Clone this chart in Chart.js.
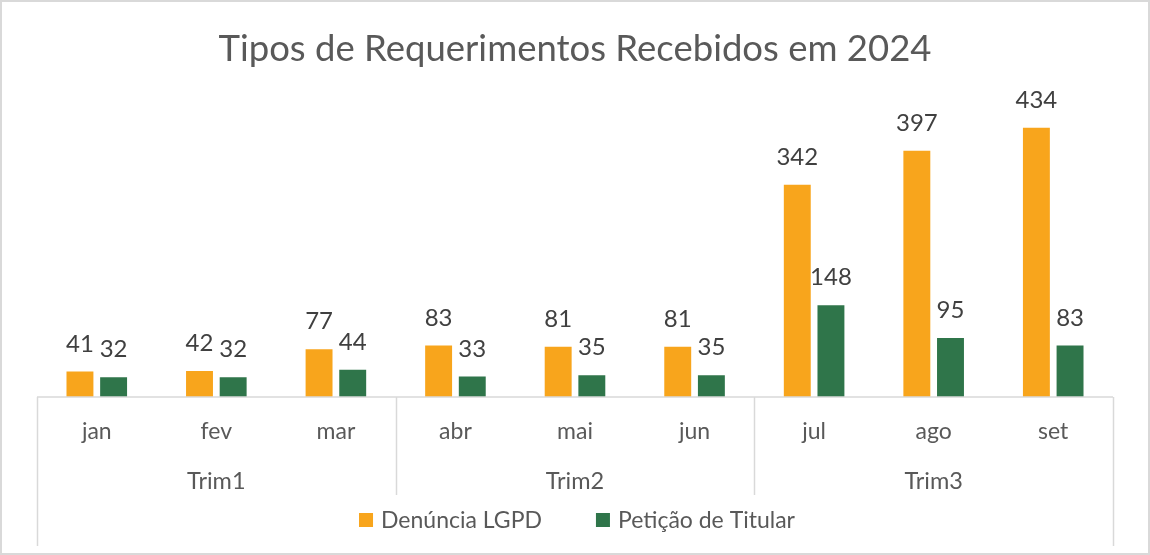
<!DOCTYPE html>
<html>
<head>
<meta charset="utf-8">
<title>Tipos de Requerimentos Recebidos em 2024</title>
<script src="https://cdn.jsdelivr.net/npm/chart.js@4.4.1/dist/chart.umd.min.js"></script>
<style>
  html, body { margin: 0; padding: 0; background: #fff; }
  #wrap { width: 1150px; height: 555px; }
</style>
</head>
<body>
<div id="wrap"><canvas id="chart" width="1150" height="555"></canvas></div>
<script>
// data
var months = ['jan', 'fev', 'mar', 'abr', 'mai', 'jun', 'jul', 'ago', 'set'];
var quarters = ['Trim1', 'Trim2', 'Trim3'];
var denuncia = [41, 42, 77, 83, 81, 81, 342, 397, 434];
var peticao = [32, 32, 44, 33, 35, 35, 148, 95, 83];
var seriesNames = ['Denúncia LGPD', 'Petição de Titular'];

var COLORS = ['#F8A51C', '#2F754A'];
var FONT = 'Lato, "Open Sans", sans-serif';
var TEXT = '#595959';
var LINE = '#d9d9d9';

// white background + thin grey frame like the excel chart area
var framePlugin = {
  id: 'frame',
  beforeDraw: function(chart) {
    var ctx = chart.ctx;
    ctx.save();
    ctx.fillStyle = '#fff';
    ctx.fillRect(0, 0, chart.width, chart.height);
    ctx.restore();
  },
  afterDraw: function(chart) {
    var ctx = chart.ctx;
    ctx.save();
    ctx.strokeStyle = LINE;
    ctx.lineWidth = 2;
    ctx.strokeRect(1, 1, chart.width - 2, chart.height - 2);
    ctx.restore();
  }
};

// baseline + group separators of the two level category axis
var groupAxisPlugin = {
  id: 'groupAxis',
  afterDraw: function(chart) {
    var ctx = chart.ctx;
    var x = chart.scales.x, x2 = chart.scales.x2;
    var base = chart.chartArea.bottom;
    var per = months.length / quarters.length;
    ctx.save();
    ctx.strokeStyle = LINE;
    ctx.lineWidth = 1.5;
    ctx.beginPath();
    ctx.moveTo(x.left, base);
    ctx.lineTo(x.right, base);
    for (var g = 0; g <= quarters.length; g++) {
      var px = Math.round(x.getPixelForValue(g * per - 0.5)) + 0.5;
      var outer = (g === 0 || g === quarters.length);
      ctx.moveTo(px, base);
      ctx.lineTo(px, outer ? chart.height - 9 : x2.bottom);
    }
    ctx.stroke();
    ctx.restore();
  }
};

// value labels above the bars (outside end)
var valueLabelPlugin = {
  id: 'valueLabels',
  afterDatasetsDraw: function(chart) {
    var ctx = chart.ctx;
    ctx.save();
    ctx.font = '24px ' + FONT;
    ctx.fillStyle = '#404040';
    ctx.textAlign = 'center';
    ctx.textBaseline = 'alphabetic';
    chart.data.datasets.forEach(function(ds, i) {
      var meta = chart.getDatasetMeta(i);
      meta.data.forEach(function(bar, j) {
        ctx.fillText(ds.data[j], bar.x, bar.y - 20);
      });
    });
    ctx.restore();
  }
};

// excel style legend: small squares, wide gap between entries
var legendPlugin = {
  id: 'excelLegend',
  afterDraw: function(chart) {
    var ctx = chart.ctx;
    var box = 14, gapText = 8, gapItem = 54, y = 520;
    ctx.save();
    ctx.font = '23px ' + FONT;
    var items = chart.data.datasets.map(function(ds) {
      return { text: ds.label, color: ds.backgroundColor, w: ctx.measureText(ds.label).width };
    });
    var total = 0;
    items.forEach(function(it, i) {
      total += box + gapText + it.w + (i ? gapItem : 0);
    });
    var left = chart.width / 2 - total / 2 + 2;
    ctx.textBaseline = 'middle';
    ctx.textAlign = 'left';
    items.forEach(function(it) {
      ctx.fillStyle = it.color;
      ctx.fillRect(left, y - box / 2, box, box);
      ctx.fillStyle = TEXT;
      ctx.fillText(it.text, left + box + gapText, y + 1);
      left += box + gapText + it.w + gapItem;
    });
    ctx.restore();
  }
};

var chart = new Chart(document.getElementById('chart'), {
  type: 'bar',
  data: {
    labels: months,
    datasets: [
      { label: seriesNames[0], data: denuncia, backgroundColor: COLORS[0] },
      { label: seriesNames[1], data: peticao, backgroundColor: COLORS[1] }
    ]
  },
  options: {
    responsive: false,
    animation: false,
    events: [],
    categoryPercentage: 0.563,
    barPercentage: 0.8,
    layout: { padding: { left: 37, right: 37, top: 0, bottom: 60 } },
    plugins: {
      legend: { display: false },
      tooltip: { enabled: false },
      title: {
        display: true,
        text: 'Tipos de Requerimentos Recebidos em 2024',
        color: TEXT,
        font: { family: FONT, size: 36.5, weight: 'normal' },
        padding: { top: 27, bottom: 16 }
      }
    },
    scales: {
      y: { display: false, min: 0, max: 500 },
      x: {
        grid: { display: false, drawTicks: false },
        border: { display: false },
        ticks: { color: TEXT, font: { family: FONT, size: 23 }, padding: 21 },
        afterFit: function(s) { s.height = 58; }
      },
      x2: {
        type: 'category',
        labels: quarters,
        position: 'bottom',
        offset: true,
        weight: 1,
        grid: { display: false, drawTicks: false },
        border: { display: false },
        ticks: { color: TEXT, font: { family: FONT, size: 23.5 }, padding: 12 },
        afterFit: function(s) { s.height = 40; }
      }
    }
  },
  plugins: [framePlugin, groupAxisPlugin, valueLabelPlugin, legendPlugin]
});
</script>
</body>
</html>
